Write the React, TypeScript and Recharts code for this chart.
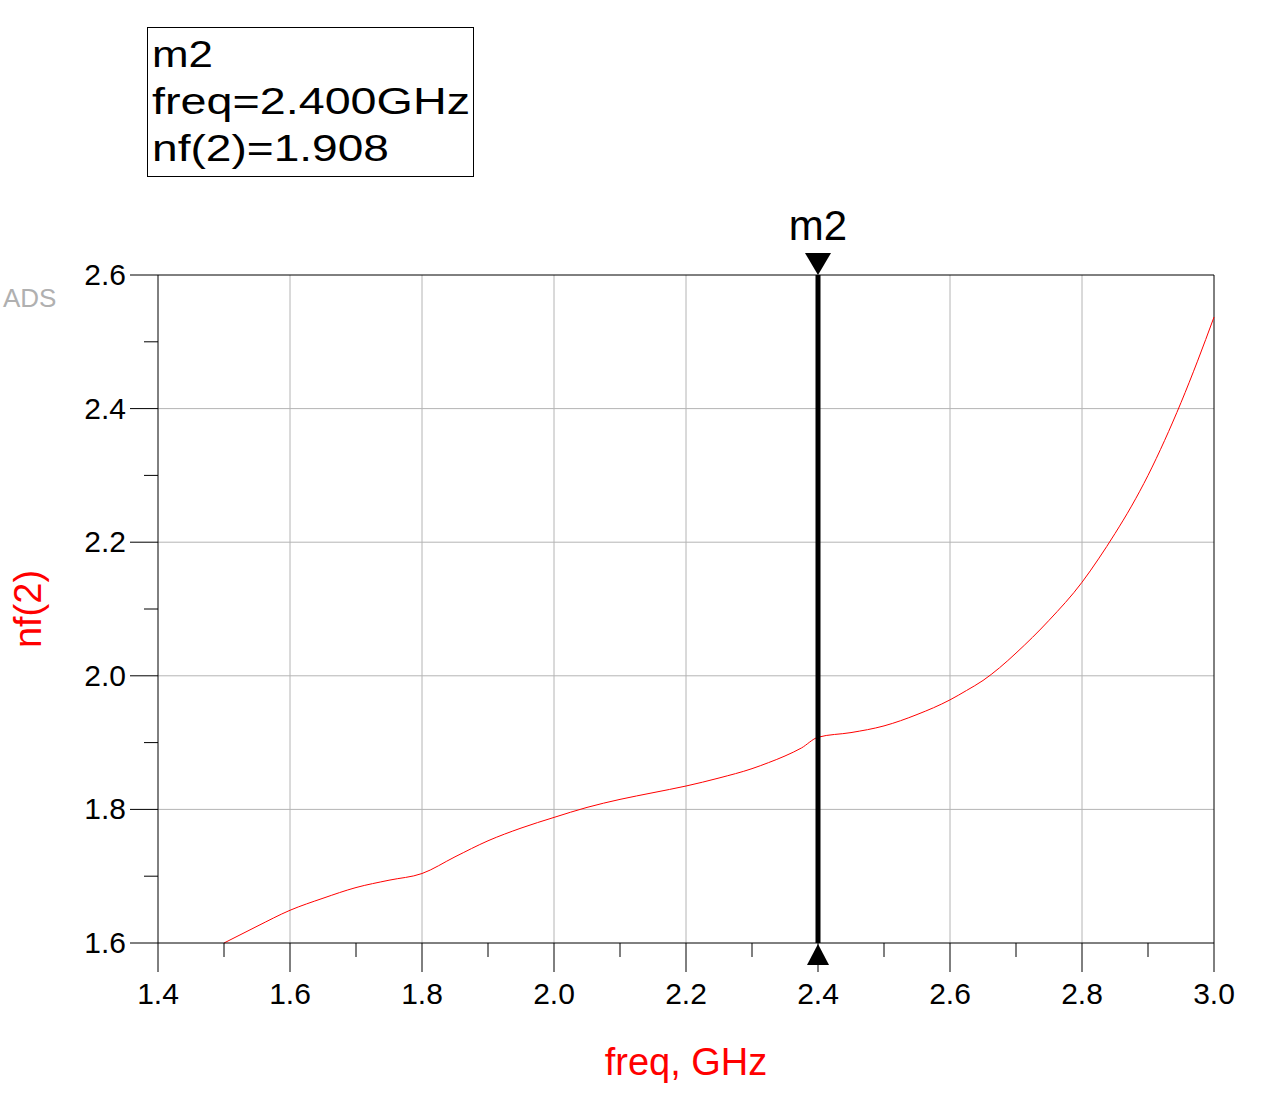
import { ComposedChart, Line, XAxis, YAxis, ReferenceLine } from 'recharts'

// nf(2) vs freq
const freqGHz = [1.5, 1.55, 1.6, 1.65, 1.7, 1.75, 1.8, 1.85, 1.9, 1.95, 2.0, 2.05, 2.1, 2.15, 2.2, 2.25, 2.3, 2.325, 2.35, 2.375, 2.4, 2.45, 2.5, 2.55, 2.6, 2.625, 2.65, 2.675, 2.7, 2.75, 2.8, 2.825, 2.85, 2.875, 2.9, 2.925, 2.95, 2.975, 3.0]
const nf2 = [1.6, 1.625, 1.649, 1.667, 1.683, 1.694, 1.704, 1.729, 1.753, 1.772, 1.788, 1.803, 1.815, 1.825, 1.835, 1.847, 1.861, 1.87, 1.88, 1.892, 1.908, 1.915, 1.925, 1.942, 1.964, 1.978, 1.993, 2.012, 2.034, 2.083, 2.14, 2.175, 2.213, 2.254, 2.3, 2.352, 2.409, 2.471, 2.537]

const xTicks = [1.4, 1.5, 1.6, 1.7, 1.8, 1.9, 2.0, 2.1, 2.2, 2.3, 2.4, 2.5, 2.6, 2.7, 2.8, 2.9, 3.0]
const yTicks = [1.6, 1.7, 1.8, 1.9, 2.0, 2.1, 2.2, 2.3, 2.4, 2.5, 2.6]
const xGrid = [1.6, 1.8, 2.0, 2.2, 2.4, 2.6, 2.8]
const yGrid = [1.8, 2.0, 2.2, 2.4]

const markerFreq = 2.4
const markerName = 'm2'
const markerLines = ['m2', 'freq=2.400GHz', 'nf(2)=1.908']

const data = freqGHz.map((f, i) => ({ freq: f, nf: nf2[i] }))

const FONT = '"Liberation Sans", Arial, sans-serif'

const isMajor = (v: number) => Math.round(v * 10) % 2 === 0

function XTick(props: any) {
  const { x, y, payload } = props
  const major = isMajor(payload.value)
  return (
    <g>
      <line x1={x} x2={x} y1={y} y2={y + (major ? 29 : 14)} stroke="#000" strokeWidth={1} />
      {major && (
        <text x={x} y={y + 61} textAnchor="middle" fontSize={30} fontFamily={FONT} fill="#000">
          {payload.value.toFixed(1)}
        </text>
      )}
    </g>
  )
}

function YTick(props: any) {
  const { x, y, payload } = props
  const major = isMajor(payload.value)
  return (
    <g>
      <line x1={x - (major ? 28 : 14)} x2={x} y1={y} y2={y} stroke="#000" strokeWidth={1} />
      {major && (
        <text x={x - 32} y={y + 10} textAnchor="end" fontSize={30} fontFamily={FONT} fill="#000">
          {payload.value.toFixed(1)}
        </text>
      )}
    </g>
  )
}

function MarkerLabel(props: any) {
  const vb = props.viewBox || {}
  const x = vb.x
  const top = vb.y
  const bottom = vb.y + vb.height
  return (
    <g>
      <polygon points={`${x - 13},${top - 22} ${x + 13},${top - 22} ${x},${top}`} fill="#000" />
      <polygon points={`${x - 11},${bottom + 22} ${x + 11},${bottom + 22} ${x},${bottom + 1}`} fill="#000" />
      <text x={x} y={top - 35} textAnchor="middle" fontSize={42} fontFamily={FONT} fill="#000">
        {markerName}
      </text>
    </g>
  )
}

export default function App() {
  return (
    <div style={{ position: 'absolute', left: 0, top: 0, width: 1266, height: 1104, background: '#fff' }}>
      <ComposedChart
        width={1266}
        height={1104}
        data={data}
        margin={{ top: 275, right: 52, bottom: 61, left: 58 }}
      >
        {xGrid.map((v) => (
          <ReferenceLine key={'gx' + v} x={v} stroke="#b4b4b4" strokeWidth={1} />
        ))}
        {yGrid.map((v) => (
          <ReferenceLine key={'gy' + v} y={v} stroke="#b4b4b4" strokeWidth={1} />
        ))}
        <ReferenceLine y={2.6} stroke="#000" strokeWidth={1} />
        <ReferenceLine x={3.0} stroke="#000" strokeWidth={1} />
        <XAxis
          dataKey="freq"
          type="number"
          domain={[1.4, 3.0]}
          ticks={xTicks}
          interval={0}
          height={100}
          axisLine={{ stroke: '#000' }}
          tickLine={false}
          tickSize={0}
          tickMargin={0}
          tick={<XTick />}
        />
        <YAxis
          type="number"
          domain={[1.6, 2.6]}
          ticks={yTicks}
          interval={0}
          width={100}
          axisLine={{ stroke: '#000' }}
          tickLine={false}
          tickSize={0}
          tickMargin={0}
          tick={<YTick />}
        />
        <Line
          type="monotone"
          dataKey="nf"
          stroke="#ff0000"
          strokeWidth={1}
          dot={false}
          isAnimationActive={false}
        />
        <ReferenceLine x={markerFreq} stroke="#000" strokeWidth={5} label={<MarkerLabel />} />
      </ComposedChart>
      <svg
        width={1266}
        height={1104}
        style={{ position: 'absolute', left: 0, top: 0, pointerEvents: 'none' }}
      >
        <rect x={147.5} y={27.5} width={326} height={149} fill="none" stroke="#000" strokeWidth={1} />
        {markerLines.map((t, i) => (
          <text
            key={t}
            x={152}
            y={67 + i * 47}
            fontSize={37}
            fontFamily={FONT}
            fill="#000"
            textLength={i === 0 ? 61 : i === 1 ? 318 : 237}
            lengthAdjust="spacingAndGlyphs"
          >
            {t}
          </text>
        ))}
        <text x={3} y={307} fontSize={26} fontFamily={FONT} fill="#b0b0b0">
          ADS
        </text>
        <text x={686} y={1075} textAnchor="middle" fontSize={38} fontFamily={FONT} fill="#ff0000">
          freq, GHz
        </text>
        <text
          x={41}
          y={609}
          textAnchor="middle"
          fontSize={38}
          fontFamily={FONT}
          fill="#ff0000"
          transform="rotate(-90 41 609)"
        >
          nf(2)
        </text>
      </svg>
    </div>
  )
}
